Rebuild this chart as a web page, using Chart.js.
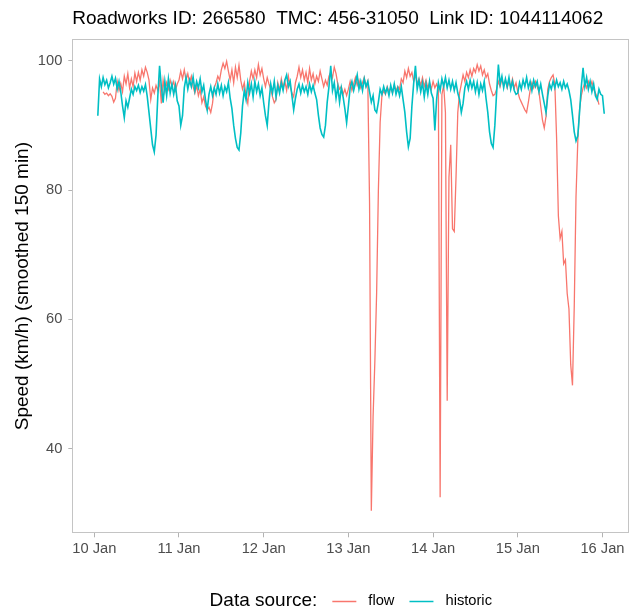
<!DOCTYPE html>
<html>
<head>
<meta charset="utf-8">
<script src="https://cdn.jsdelivr.net/npm/chart.js@4.4.1/dist/chart.umd.min.js"></script>
<style>
  html, body { margin: 0; padding: 0; background: #fff; }
</style>
</head>
<body>
<canvas id="speedChart" width="631" height="615"></canvas>
<script>
// one sample every 30 minutes, hour 0 = 10 Jan 00:00
const stepHours = 0.5;
const dayLabels = ["10 Jan", "11 Jan", "12 Jan", "13 Jan", "14 Jan", "15 Jan", "16 Jan"];
const speedTicks = [40, 60, 80, 100];

const flowSpeed = [
  null, null, null, null, null, 95.2, 94.8, 95.0, 94.6, 94.9, 94.5, 93.6, 94.2, 96.8, 95.4, 96.5, 95.2, 97.6, 96.4, 98.0, 95.8, 97.2, 96.0, 98.1,
  96.8, 98.2, 97.0, 98.6, 97.6, 99.0, 98.2, 97.0, 94.0, 95.8, 95.0, 96.2, 95.4, 96.8, 93.4, 97.0, 95.2, 96.6, 95.6, 97.0, 96.0, 96.8, 95.4, 96.4,
  97.0, 98.4, 97.2, 98.6, 97.0, 98.0, 96.6, 97.6, 96.0, 95.0, 96.2, 94.6, 95.6, 93.5, 94.4, 93.0, 92.4, 92.8, 92.0, 93.4, 95.8, 96.6, 97.6, 97.0,
  98.6, 99.6, 98.8, 99.9, 98.4, 97.0, 98.6, 96.6, 99.0, 97.4, 99.3, 97.0, 95.6, 96.6, 94.6, 93.4, 96.8, 98.4, 97.2, 98.6, 97.4, 99.4, 97.8, 98.8,
  97.2, 96.0, 97.4, 96.4, 95.6, 94.4, 93.5, 94.0, 96.6, 95.4, 97.2, 95.8, 96.8, 95.4, 97.6, 96.0, 95.0, 94.4, 96.6, 97.6, 99.0, 97.4, 98.6, 97.0,
  98.2, 96.6, 98.8, 97.0, 98.0, 96.4, 97.6, 96.8, 98.4, 97.2, 96.0, 97.0, 96.2, 97.6, 98.2, 97.4, 99.0, 98.0, 96.4, 95.6, 96.0, 94.8, 95.6, 94.6,
  95.6, 96.8, 95.4, 96.4, 97.4, 96.2, 97.0, 95.8, 96.6, 97.4, 96.0, 96.8, 78.0, 30.4, 45.0, 53.5, 64.0, 80.0, 90.5, 94.6, 95.4, 94.8, 96.0, 95.2,
  95.8, 95.0, 96.2, 95.4, 96.0, 95.6, 97.2, 96.6, 98.4, 97.4, 98.8, 97.6, 98.2, 96.8, 97.8, 96.4, 97.2, 96.2, 97.4, 96.0, 97.0, 95.8, 96.6, 95.6,
  96.8, 95.8, 96.4, 95.6, 32.5, 94.8, 96.2, 92.0, 47.4, 82.0, 87.0, 74.0, 73.6, 82.0, 92.0, 95.0, 96.4, 97.8, 96.8, 98.2, 97.4, 98.6, 97.6, 98.8,
  98.2, 99.4, 98.4, 99.2, 97.8, 98.6, 97.4, 98.0, 96.4, 95.4, 94.6, 94.8, 95.6, 96.8, 96.0, 97.2, 96.2, 97.0, 95.8, 96.8, 96.0, 97.2, 95.8, 96.6,
  95.2, 94.2, 93.6, 93.0, 92.4, 92.0, 93.6, 95.4, 96.6, 95.8, 96.8, 96.0, 95.2, 93.0, 90.8, 89.6, 91.4, 95.6, 96.8, 97.4, 97.8, 96.4, 88.0, 76.0,
  72.5, 73.6, 68.6, 69.2, 64.0, 61.6, 53.0, 49.8, 62.0, 79.0, 87.5, 92.5, 94.6, 95.8, 96.6, 95.8, 96.8, 96.0, 96.8, 95.6, 95.0, 94.4, 93.2, null,
  null, null
];

const historicSpeed = [
  null, null, 91.5, 97.2, 96.0, 97.4, 96.3, 97.0, 95.8, 96.6, 97.6, 96.4, 97.3, 95.6, 96.8, 95.2, 93.0, 91.2, 93.8, 92.8, 94.2, 95.6, 94.8, 96.0,
  95.4, 96.2, 95.1, 96.0, 95.3, 96.3, 94.5, 92.0, 89.5, 87.0, 85.9, 88.5, 94.5, 99.2, 96.0, 93.5, 96.8, 94.6, 97.2, 95.0, 96.4, 94.8, 96.2, 93.8,
  93.0, 90.0, 91.5, 95.8, 97.4, 95.6, 97.0, 96.0, 97.5, 95.4, 96.8, 95.8, 97.2, 95.2, 96.2, 94.0, 92.4, 94.8, 96.0, 94.6, 95.8, 94.8, 96.4, 95.0,
  96.2, 94.6, 96.0, 95.2, 96.6, 94.2, 92.6, 90.0, 88.0, 86.6, 86.2, 88.8, 93.0, 95.4, 94.0, 96.6, 95.0, 96.4, 94.4, 96.8, 95.2, 96.4, 94.6, 95.8,
  93.5, 91.5, 90.0, 93.6, 96.4, 95.0, 96.8, 94.4, 96.2, 95.0, 96.6, 95.4, 97.0, 97.8, 96.0, 96.8, 94.6, 92.4, 94.2, 95.6, 96.4, 95.0, 96.2, 95.2,
  96.0, 94.8, 96.4, 95.2, 96.2, 95.0, 94.0, 91.6, 89.6, 88.6, 88.2, 90.0, 93.6, 96.0, 99.2, 95.4, 96.6, 94.2, 96.0, 93.6, 95.8, 94.4, 92.6, 90.4,
  93.0, 95.8, 96.8, 95.4, 96.6, 97.8, 95.6, 96.8, 95.4, 97.2, 96.0, 96.8, 95.2, 93.6, 94.6, 92.4, 92.0, 93.6, 95.6, 94.8, 96.0, 95.0, 95.8, 94.6,
  96.2, 95.0, 96.4, 94.8, 95.8, 94.6, 96.0, 94.0, 92.0, 89.0, 86.7, 88.0, 93.0, 96.5, 99.2, 95.6, 97.0, 95.2, 96.6, 94.4, 96.4, 94.8, 96.8, 95.0,
  94.2, 89.2, 94.0, 96.6, 95.4, 97.2, 96.0, 97.4, 95.8, 97.0, 95.6, 96.8, 95.4, 96.6, 95.0, 94.0, 92.0, 93.4, 95.8, 96.8, 95.6, 97.0, 95.8, 96.8,
  95.2, 96.6, 94.8, 96.4, 95.4, 96.8, 94.2, 92.0, 89.0, 87.2, 86.6, 90.0, 95.0, 99.4, 96.4, 97.6, 95.8, 97.2, 96.0, 97.4, 95.6, 96.8, 95.4, 94.8,
  95.0, 96.6, 95.6, 97.0, 96.0, 97.4, 95.8, 96.8, 95.4, 97.0, 96.0, 96.8, 95.2, 96.4, 94.8, 93.4, 92.0, 94.6, 96.4, 95.6, 96.8, 95.8, 97.0, 96.0,
  96.6, 95.6, 96.8, 95.8, 96.4, 95.4, 94.0, 91.6, 89.0, 87.6, 88.4, 92.0, 96.0, 98.9, 96.0, 97.4, 95.6, 96.8, 95.2, 96.4, 94.6, 94.0, 95.6, 94.8,
  94.6, 91.8
];

const sampleHours = historicSpeed.map((_, i) => i * stepHours);

const FONT = '"Liberation Sans", Arial, Helvetica, sans-serif';
const TITLE = "Roadworks ID: 266580  TMC: 456-31050  Link ID: 1044114062";

// panel border, left-aligned title and the inline legend underneath
const decorations = {
  id: "decorations",
  afterDraw(chart) {
    const { ctx, chartArea: a } = chart;
    ctx.save();
    ctx.strokeStyle = "#C4C4C4";
    ctx.lineWidth = 1;
    ctx.strokeRect(Math.round(a.left) + 0.5, Math.round(a.top) + 0.5,
      Math.round(a.right - a.left) - 1, Math.round(a.bottom - a.top) - 1);

    ctx.fillStyle = "#000";
    ctx.textBaseline = "middle";
    ctx.textAlign = "left";
    ctx.font = `19px ${FONT}`;
    ctx.fillText(TITLE, a.left, 19);

    const keyTitle = "Data source:";
    const titleW = ctx.measureText(keyTitle).width;
    ctx.font = `14.7px ${FONT}`;
    const sets = chart.data.datasets;
    const labelW = sets.map(d => ctx.measureText(d.label).width);
    const swatch = 24;
    const total = titleW + sets.length * (15 + swatch + 12) + labelW.reduce((s, w) => s + w, 0);
    let x = (a.left + a.right) / 2 - total / 2;
    const y = 601;
    ctx.font = `19px ${FONT}`;
    ctx.fillText(keyTitle, x, y);
    x += titleW;
    ctx.font = `14.7px ${FONT}`;
    sets.forEach((d, i) => {
      x += 15;
      ctx.strokeStyle = d.borderColor;
      ctx.lineWidth = 1.5;
      ctx.beginPath();
      ctx.moveTo(x, y + 0.5);
      ctx.lineTo(x + swatch, y + 0.5);
      ctx.stroke();
      x += swatch + 12;
      ctx.fillText(d.label, x, y);
      x += labelW[i];
    });
    ctx.restore();
  }
};

const tickFont = { family: FONT, size: 14.7 };

new Chart(document.getElementById("speedChart"), {
  type: "line",
  data: {
    labels: sampleHours,
    datasets: [
      {
        label: "flow",
        data: flowSpeed,
        borderColor: "#F8766D",
        borderWidth: 1.3,
        pointRadius: 0,
        tension: 0,
        order: 1,
      },
      {
        label: "historic",
        data: historicSpeed,
        borderColor: "#00BFC4",
        borderWidth: 1.6,
        pointRadius: 0,
        tension: 0,
        order: 0,
      },
    ],
  },
  options: {
    responsive: false,
    animation: false,
    devicePixelRatio: 1,
    layout: { padding: { top: 39, right: 1.7, bottom: 51.7, left: 0 } },
    plugins: {
      legend: { display: false },
      title: { display: false },
      tooltip: { enabled: false },
    },
    scales: {
      x: {
        type: "linear",
        min: -6.23,
        max: 151.6,
        afterBuildTicks: (s) => { s.ticks = dayLabels.map((_, i) => ({ value: i * 24 })); },
        afterFit: (s) => { s.height = 30; },
        ticks: {
          autoSkip: false,
          maxRotation: 0,
          color: "#4D4D4D",
          font: tickFont,
          padding: 3,
          callback: (v, i) => dayLabels[i],
        },
        grid: { drawOnChartArea: false, drawTicks: true, tickLength: 4, color: "#B3B3B3" },
        border: { display: false },
      },
      y: {
        min: 26.92,
        max: 103.36,
        afterBuildTicks: (s) => { s.ticks = speedTicks.map(v => ({ value: v })); },
        afterFit: (s) => { s.width = 72.3; },
        ticks: { color: "#4D4D4D", font: tickFont, padding: 6 },
        grid: { drawOnChartArea: false, drawTicks: true, tickLength: 4, color: "#B3B3B3" },
        border: { display: false },
        title: {
          display: true,
          text: "Speed (km/h) (smoothed 150 min)",
          color: "#000",
          font: { family: FONT, size: 19 },
          padding: { top: 11, bottom: 0 },
        },
      },
    },
  },
  plugins: [decorations],
});
</script>
</body>
</html>
